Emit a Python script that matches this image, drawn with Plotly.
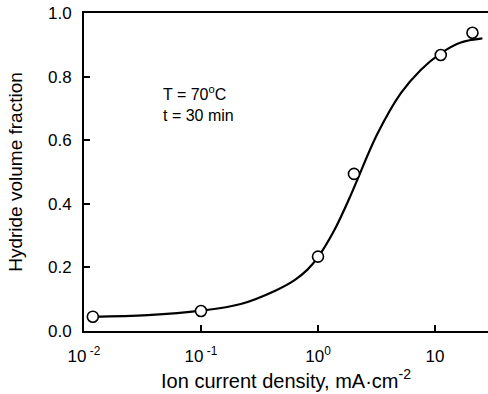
import plotly.graph_objects as go

# Measured points
x_pts = [0.0119, 0.1, 1.0, 2.03, 11.2, 20.9]
y_pts = [0.045, 0.063, 0.234, 0.494, 0.868, 0.938]

# Fitted curve
x_fit = [0.0117, 0.035, 0.1, 0.219, 0.427, 0.631, 0.813, 1.0, 1.37, 1.91, 2.17, 3.22, 5.09, 7.55, 11.2, 16.6, 25.4]
y_fit = [0.045, 0.050, 0.064, 0.085, 0.126, 0.160, 0.193, 0.232, 0.315, 0.428, 0.476, 0.620, 0.747, 0.821, 0.873, 0.907, 0.920]

x_tickvals = [0.01, 0.1, 1, 10]
x_ticktext = ["10<sup> -2</sup>", "10<sup> -1</sup>", "10<sup>0</sup>", "10"]
y_tickvals = [0.0, 0.2, 0.4, 0.6, 0.8, 1.0]
y_ticktext = ["0.0", "0.2", "0.4", "0.6", "0.8", "1.0"]

FONT = "Liberation Sans, Arial, sans-serif"

fig = go.Figure()
fig.add_trace(go.Scatter(x=x_fit, y=y_fit, mode="lines",
                         line=dict(color="black", width=2.2, shape="spline", smoothing=1.0),
                         hoverinfo="skip", showlegend=False))
fig.add_trace(go.Scatter(x=x_pts, y=y_pts, mode="markers",
                         marker=dict(symbol="circle", size=11, color="white",
                                     line=dict(color="black", width=1.6)),
                         showlegend=False, cliponaxis=False))

fig.add_annotation(x=0.19, y=0.715, xref="paper", yref="paper",
                   text="T = 70<sup>o</sup>C<br>t = 30 min",
                   showarrow=False, align="left", xanchor="left", yanchor="middle",
                   font=dict(family=FONT, size=16, color="black"))

fig.update_layout(
    width=488, height=394,
    margin=dict(l=84, r=0, t=13, b=63, autoexpand=False),
    paper_bgcolor="white", plot_bgcolor="white",
    font=dict(family=FONT, color="black", size=16),
    xaxis=dict(type="log", range=[-2, 1.453], automargin=False,
               tickvals=x_tickvals, ticktext=x_ticktext,
               ticks="inside", ticklen=6, tickwidth=1.5, tickcolor="black",
               showline=True, linecolor="black", linewidth=2, mirror=True,
               showgrid=False, zeroline=False,
               tickfont=dict(size=17), ticklabelstandoff=9,
               title=dict(text="Ion current density, mA·cm<sup>-2</sup>",
                          font=dict(size=20), standoff=4)),
    yaxis=dict(range=[0, 1], automargin=False,
               tickvals=y_tickvals, ticktext=y_ticktext,
               ticks="inside", ticklen=6, tickwidth=1.5, tickcolor="black",
               showline=True, linecolor="black", linewidth=2, mirror=False,
               showgrid=False, zeroline=False,
               tickfont=dict(size=17), ticklabelstandoff=7,
               ticklabeloverflow="allow",
               title=dict(text="Hydride volume fraction",
                          font=dict(size=19), standoff=20)),
)

fig.write_html("out.html", config={"displayModeBar": False},
               post_script="document.body.style.margin='0';document.body.style.overflow='hidden';")
